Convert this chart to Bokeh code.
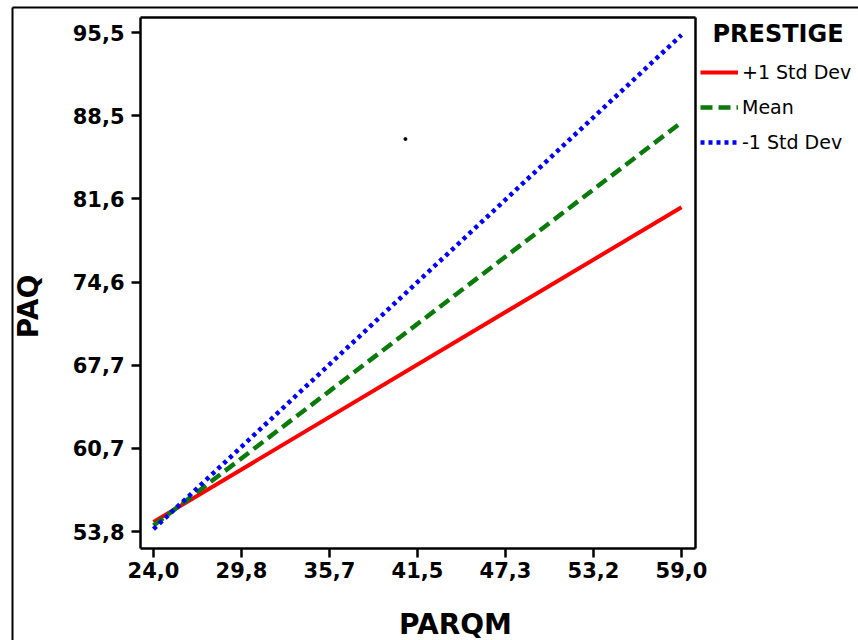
import math
from bokeh.plotting import figure
from bokeh.models import (Legend, LegendItem, Label, FixedTicker, Range1d,
                          LinearAxis)
from bokeh.embed import file_html
from bokeh.resources import INLINE

# ---- data ----
parqm = [24.0, 59.0]
plus1_sd = [54.6, 80.9]
mean_line = [54.3, 88.0]
minus1_sd = [54.0, 95.3]
series_names = ["+1 Std Dev", "Mean", "-1 Std Dev"]
legend_title = "PRESTIGE"
x_title = "PARQM"
y_title = "PAQ"
x_tick_values = [24.0, 29.8333, 35.6667, 41.5, 47.3333, 53.1667, 59.0]
x_tick_labels = ["24,0", "29,8", "35,7", "41,5", "47,3", "53,2", "59,0"]
y_tick_values = [53.8, 60.75, 67.7, 74.65, 81.6, 88.55, 95.5]
y_tick_labels = ["53,8", "60,7", "67,7", "74,6", "81,6", "88,5", "95,5"]
stray_x = [40.7]
stray_y = [86.6]

# ---- layout constants (plot box limits and whole-canvas ranges) ----
X_MIN, X_MAX = 23.14, 59.93
Y_MIN, Y_MAX = 52.38, 96.75
CANVAS_X = (13.858, 70.733)
CANVAS_Y = (44.691, 98.176)
OUTER_LEFT, OUTER_TOP = 14.653, 97.591
FONT = "DejaVu Sans"

p = figure(width=858, height=640, output_backend="svg", toolbar_location=None,
           x_range=Range1d(*CANVAS_X), y_range=Range1d(*CANVAS_Y),
           x_axis_location=None, y_axis_location=None,
           min_border_left=0, min_border_right=0, min_border_top=0,
           min_border_bottom=0)
p.background_fill_color = "white"
p.border_fill_color = "white"
p.outline_line_color = None
p.grid.visible = False


def styled_axis(kwargs, vals, labs, width=2.5):
    ax = LinearAxis(**kwargs)
    ax.ticker = FixedTicker(ticks=vals, minor_ticks=[])
    if labs:
        ax.major_label_overrides = {v: l for v, l in zip(vals, labs)}
    ax.axis_line_color = "black"
    ax.axis_line_width = width
    ax.major_tick_line_color = "black"
    ax.major_tick_line_width = 2.5
    ax.major_tick_out = 9
    ax.major_tick_in = 0
    ax.minor_tick_line_color = None
    ax.major_label_text_font = FONT
    ax.major_label_text_font_style = "bold"
    ax.major_label_text_font_size = "21px"
    ax.major_label_text_color = "black"
    return ax


xax = styled_axis(dict(fixed_location=Y_MIN, bounds=(X_MIN, X_MAX)),
                  x_tick_values, x_tick_labels)
xax.major_label_standoff = 5
yax = styled_axis(dict(fixed_location=X_MIN, bounds=(Y_MIN, Y_MAX)),
                  y_tick_values, y_tick_labels)
yax.major_label_standoff = 7
top_ax = styled_axis(dict(fixed_location=Y_MAX, bounds=(X_MIN, X_MAX)), [], None)
right_ax = styled_axis(dict(fixed_location=X_MAX, bounds=(Y_MIN, Y_MAX)), [], None)
# outer chart border: only its left and top edges fall inside the picture
outer_left = styled_axis(dict(fixed_location=OUTER_LEFT,
                              bounds=(CANVAS_Y[0], OUTER_TOP)), [], None, 2)
outer_top = styled_axis(dict(fixed_location=OUTER_TOP,
                             bounds=(OUTER_LEFT, CANVAS_X[1])), [], None, 2)
p.add_layout(xax, "below")
p.add_layout(yax, "left")
p.add_layout(top_ax, "above")
p.add_layout(right_ax, "right")
p.add_layout(outer_left, "left")
p.add_layout(outer_top, "above")

r1 = p.line(parqm, plus1_sd, line_color="#ff0000", line_width=4)
r2 = p.line(parqm, mean_line, line_color="#0a7a0a", line_width=4.5, line_dash="12 6")
r3 = p.line(parqm, minus1_sd, line_color="#0000ff", line_width=4.5, line_dash="4 4")
p.scatter(stray_x, stray_y, size=3, color="black")

legend = Legend(items=[LegendItem(label=series_names[0], renderers=[r1]),
                       LegendItem(label=series_names[1], renderers=[r2]),
                       LegendItem(label=series_names[2], renderers=[r3])],
                location=(697, 484), title=" ",
                title_text_font_size="24px", title_text_font=FONT,
                title_text_font_style="bold", title_standoff=11,
                margin=0, padding=3, spacing=13, label_standoff=4,
                glyph_width=38, glyph_height=22, label_height=22,
                label_text_font=FONT, label_text_font_size="19px",
                label_text_color="black",
                border_line_alpha=0, background_fill_alpha=0)
p.add_layout(legend, "center")

p.add_layout(Label(x=61.055, y=95.418, text=legend_title, text_font=FONT,
                   text_font_style="bold", text_font_size="24px",
                   text_color="black", text_baseline="alphabetic"))
p.add_layout(Label(x=15.681, y=72.603, text=y_title, text_font=FONT,
                   text_font_style="bold", text_font_size="28px",
                   text_color="black", angle=math.pi / 2,
                   text_align="center", text_baseline="middle"))
p.add_layout(Label(x=44.019, y=46.028, text=x_title, text_font=FONT,
                   text_font_style="bold", text_font_size="28px",
                   text_color="black", text_align="center",
                   text_baseline="alphabetic"))

open("out.html", "w").write(file_html(p, INLINE))
